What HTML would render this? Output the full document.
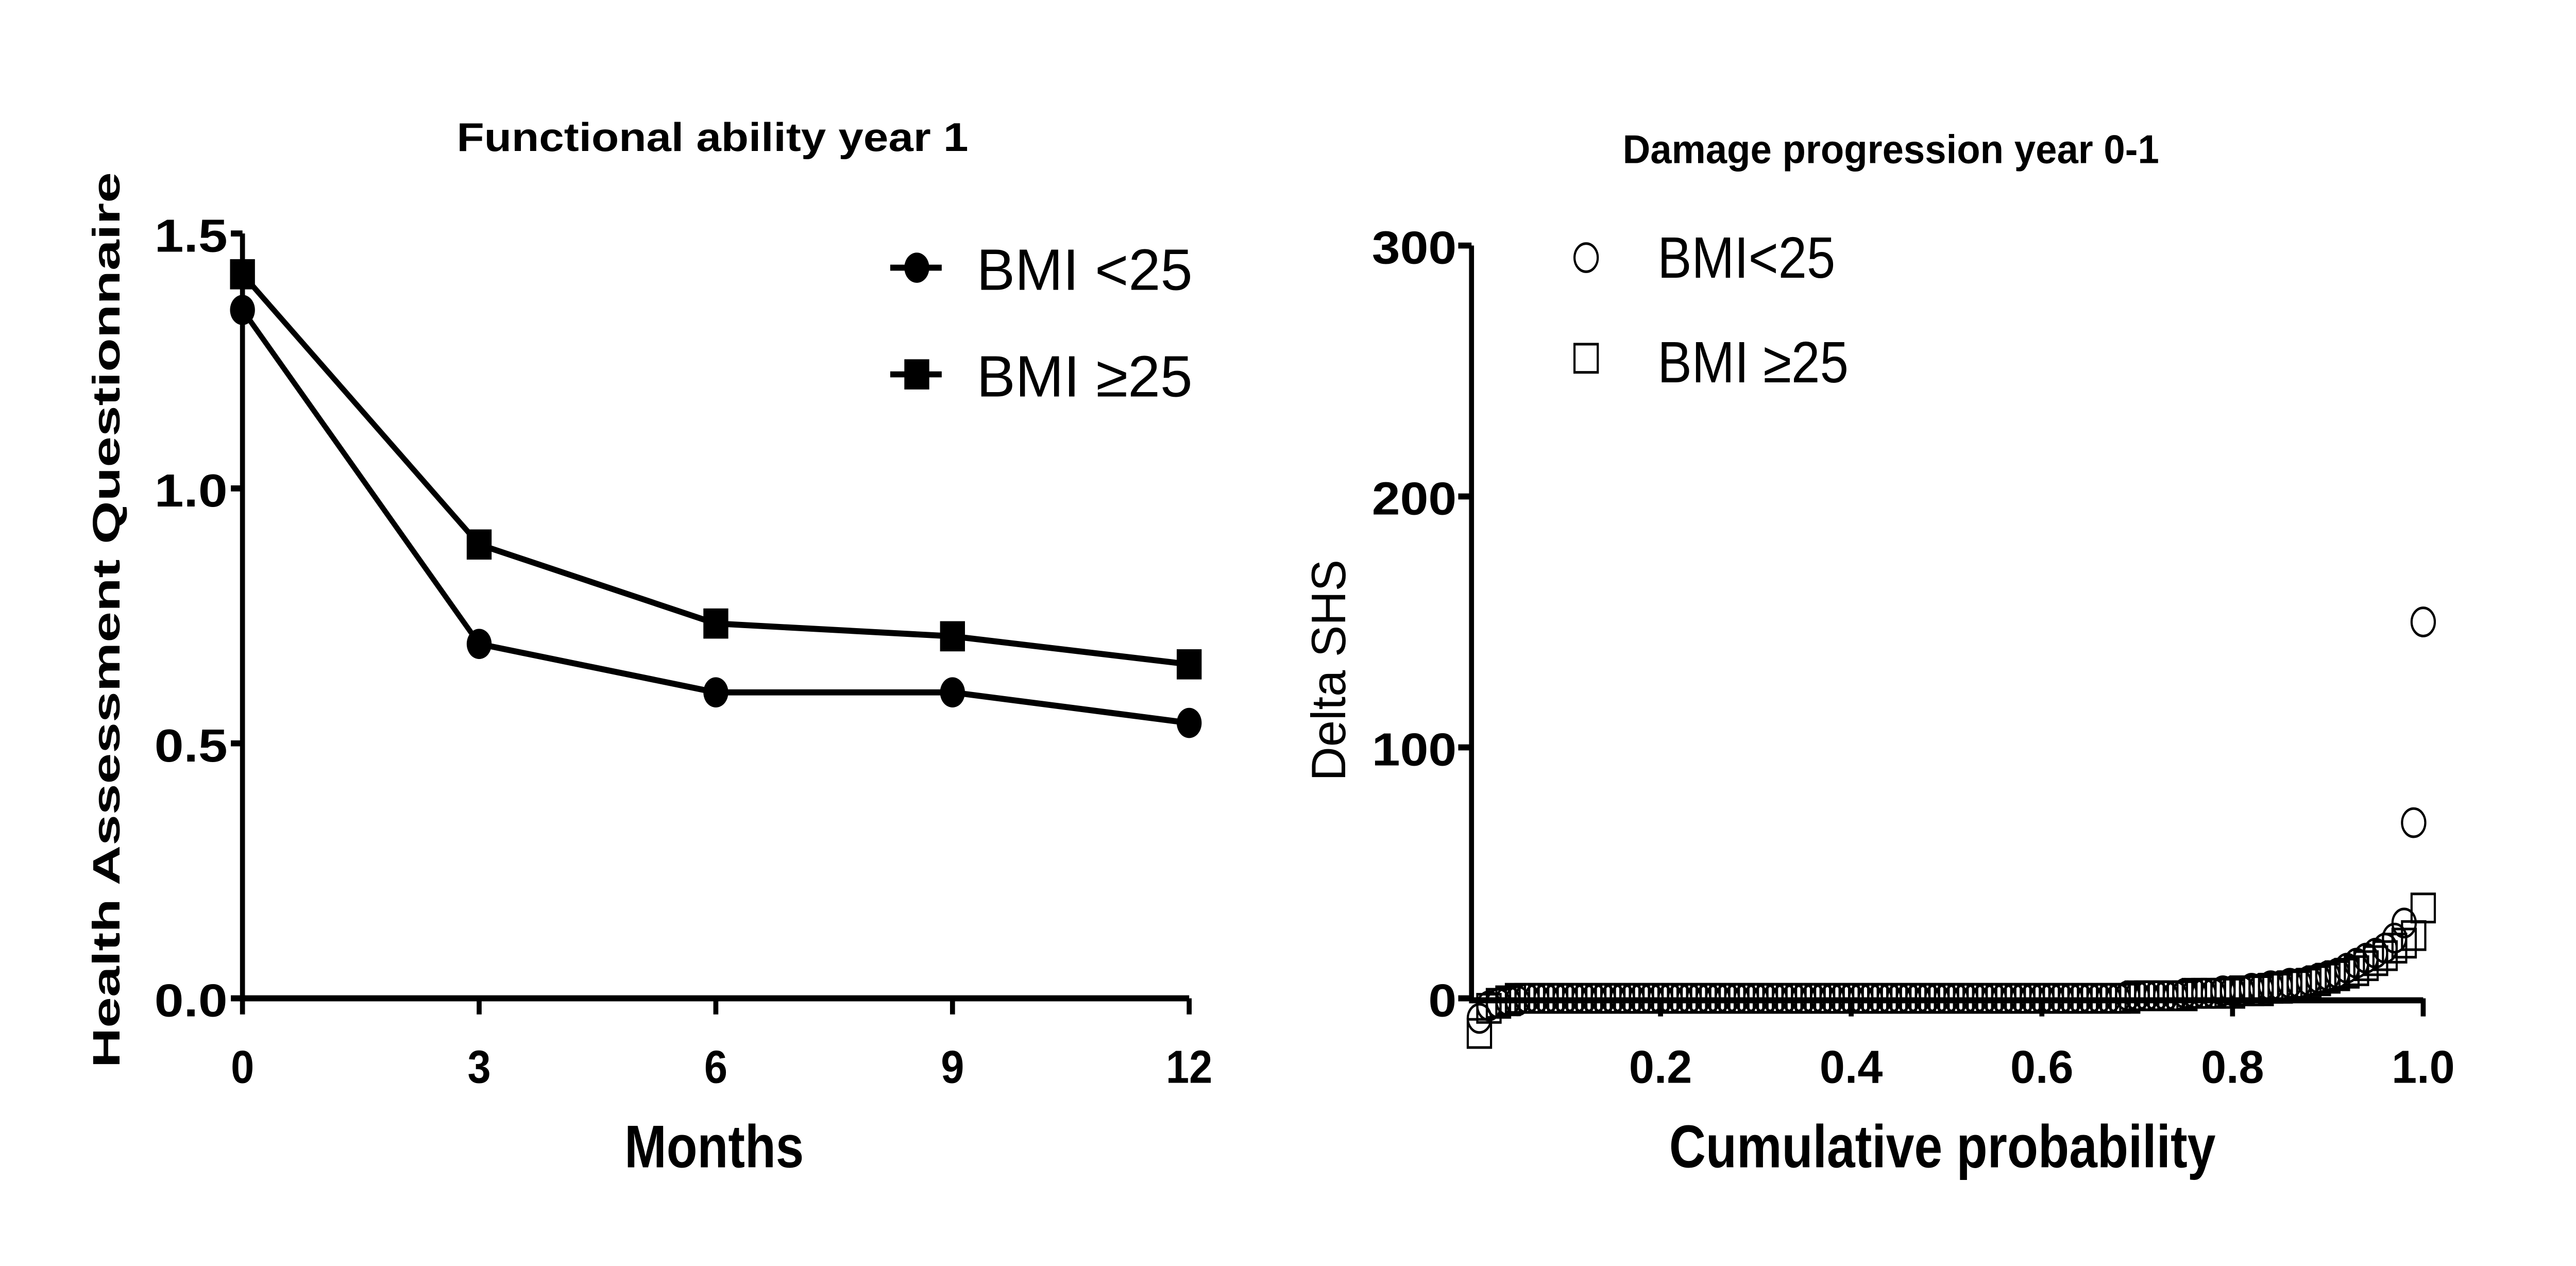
<!DOCTYPE html>
<html><head><meta charset="utf-8"><style>
html,body{margin:0;padding:0;background:#fff;width:100%;height:100%;overflow:hidden}
svg{display:block;position:absolute;left:0;top:0;width:100vw;height:100vh}
text{font-family:"Liberation Sans",Arial,sans-serif;fill:#000}
</style></head><body>
<svg id="fig" viewBox="0 0 1551 629" preserveAspectRatio="none" xmlns="http://www.w3.org/2000/svg">
<rect width="1551" height="629" fill="#fff"/>
<g id="left"></g>
<g id="right"></g>
</svg>
<script>
// ---- Left chart data ----
const months = [0, 3, 6, 9, 12];
const bmiLow = [1.35, 0.695, 0.60, 0.60, 0.54];
const bmiHigh = [1.42, 0.89, 0.735, 0.71, 0.655];
const leftYTicks = [0, 0.5, 1.0, 1.5];
const leftYTickLabels = ["0.0", "0.5", "1.0", "1.5"];
const leftXTicks = [0, 3, 6, 9, 12];

// ---- Right chart data (sorted Delta SHS values) ----
const shsLow = [-8,-3,-2,-1,-1,
0,0,0,0,0,0,0,0,0,0,0,0,0,0,0,0,0,0,0,0,0,0,0,0,0,0,0,0,0,0,0,0,0,0,0,0,0,0,0,0,0,0,0,0,0,0,0,0,0,0,0,0,0,0,0,0,0,0,0,0,0,0,0,
1,1,1,1,1,1,2,2,2,2,3,3,3,4,4,5,5,6,6,7,8,9,10,12,14,16,18,20,24,30,70,150];
const shsHigh = [-14,-4,-2,-1,
0,0,0,0,0,0,0,0,0,0,0,0,0,0,0,0,0,0,0,0,0,0,0,0,0,0,0,0,0,0,0,0,0,0,0,0,0,0,0,0,0,0,0,0,0,0,0,0,0,0,0,0,0,0,0,0,0,0,0,0,0,0,0,0,0,
1,1,1,1,1,1,2,2,2,2,2,3,3,3,4,4,5,5,6,7,8,9,10,11,13,15,17,20,22,25,36];
const rightYTicks = [0, 100, 200, 300];
const rightXTicks = [0.2, 0.4, 0.6, 0.8, 1.0];
const rightXTickLabels = ["0.2", "0.4", "0.6", "0.8", "1.0"];

const NS = "http://www.w3.org/2000/svg";
function mk(parent, tag, attrs) {
  const e = document.createElementNS(NS, tag);
  for (const k in attrs) e.setAttribute(k, attrs[k]);
  parent.appendChild(e);
  return e;
}
function txt(parent, s, attrs) { const t = mk(parent, "text", attrs); t.textContent = s; return t; }

// ===== LEFT =====
const L = document.getElementById("left");
const lx = v => 146 + (v / 12) * (716 - 146);
const ly = v => 496 - (v / 1.5) * (496 - 116);

let t = txt(L, "Functional ability year 1", {x:275, y:75, "font-size":20, "font-weight":"bold", textLength:308, lengthAdjust:"spacingAndGlyphs"});



let ax = mk(L, "path", {d:`M146 ${ly(1.5)} V496 H${lx(12)}`, stroke:"#000", "stroke-width":3, fill:"none"});


leftYTicks.forEach((v, i) => {
  const tk = mk(L, "line", {x1:139, x2:146, y1:ly(v), y2:ly(v), stroke:"#000", "stroke-width":3});
  
  
  const lb = txt(L, leftYTickLabels[i], {x:137, y:ly(v) + 9, "font-size":23, "font-weight":"bold", "text-anchor":"end", textLength:44, lengthAdjust:"spacingAndGlyphs"});
  
  
});
leftXTicks.forEach(v => {
  const tk = mk(L, "line", {x1:lx(v), x2:lx(v), y1:496, y2:504, stroke:"#000", "stroke-width":3});
  
  
  const s = String(v);
  const lb = txt(L, s, {x:lx(v), y:538, "font-size":23, "font-weight":"bold", "text-anchor":"middle", textLength:s.length * 14, lengthAdjust:"spacingAndGlyphs"});
  
  
});
t = txt(L, "Months", {x:376, y:580, "font-size":30, "font-weight":"bold", textLength:108, lengthAdjust:"spacingAndGlyphs"});


t = txt(L, "Health Assessment Questionnaire", {x:0, y:0, "font-size":23, "font-weight":"bold", "text-anchor":"middle", textLength:445, lengthAdjust:"spacingAndGlyphs", transform:"translate(72,308) rotate(-90)"});



function series(vals, name, marker) {
  const pts = months.map((m, i) => `${lx(m)},${ly(vals[i])}`).join(" ");
  const pl = mk(L, "polyline", {points:pts, fill:"none", stroke:"#000", "stroke-width":3});
  
  
  months.forEach((m, i) => {
    let e;
    if (marker === "circle") e = mk(L, "circle", {cx:lx(m), cy:ly(vals[i]), r:7.5, fill:"#000"});
    else e = mk(L, "rect", {x:lx(m) - 7.5, y:ly(vals[i]) - 7.5, width:15, height:15, fill:"#000"});
    
    
  });
}
series(bmiLow, "bmi-under-25", "circle");
series(bmiHigh, "bmi-25-plus", "square");

let lg = mk(L, "g", {});


mk(lg, "line", {x1:536, x2:567, y1:133, y2:133, stroke:"#000", "stroke-width":3});
mk(lg, "circle", {cx:552, cy:133, r:7.5, fill:"#000"});
txt(lg, "BMI <25", {x:588, y:144, "font-size":29, textLength:130, lengthAdjust:"spacingAndGlyphs"});
mk(lg, "line", {x1:536, x2:567, y1:186, y2:186, stroke:"#000", "stroke-width":3});
mk(lg, "rect", {x:544.5, y:178.5, width:15, height:15, fill:"#000"});
txt(lg, "BMI \u226525", {x:588, y:197, "font-size":29, textLength:130, lengthAdjust:"spacingAndGlyphs"});

// ===== RIGHT =====
const R = document.getElementById("right");
const rx = p => 885 + p * (1459 - 885);
const ry = v => 496 - (v / 300) * (496 - 122);

t = txt(R, "Damage progression year 0-1", {x:977, y:81, "font-size":20, "font-weight":"bold", textLength:323, lengthAdjust:"spacingAndGlyphs"});



ax = mk(R, "path", {d:`M886 ${ry(300)} V497 H${rx(1.0)}`, stroke:"#000", "stroke-width":3, fill:"none"});


rightYTicks.forEach(v => {
  const tk = mk(R, "line", {x1:878, x2:886, y1:ry(v), y2:ry(v), stroke:"#000", "stroke-width":3});
  
  
  const s = String(v);
  const lb = txt(R, s, {x:877, y:ry(v) + 9, "font-size":23, "font-weight":"bold", "text-anchor":"end", textLength:s.length * 17, lengthAdjust:"spacingAndGlyphs"});
  
  
});
rightXTicks.forEach((v, i) => {
  const tk = mk(R, "line", {x1:rx(v), x2:rx(v), y1:496, y2:505, stroke:"#000", "stroke-width":3});
  
  
  const lb = txt(R, rightXTickLabels[i], {x:rx(v), y:538, "font-size":23, "font-weight":"bold", "text-anchor":"middle", textLength:38, lengthAdjust:"spacingAndGlyphs"});
  
  
});
t = txt(R, "Cumulative probability", {x:1005, y:580, "font-size":30, "font-weight":"bold", textLength:329, lengthAdjust:"spacingAndGlyphs"});


t = txt(R, "Delta SHS", {x:0, y:0, "font-size":29, "text-anchor":"middle", textLength:110, lengthAdjust:"spacingAndGlyphs", transform:"translate(810,333) rotate(-90)"});



function scatter(vals, name, marker) {
  const n = vals.length;
  vals.forEach((v, i) => {
    const p = (i + 1) / n;
    let e;
    if (marker === "circle") e = mk(R, "circle", {cx:rx(p), cy:ry(v), r:7, fill:"none", stroke:"#000", "stroke-width":1.3});
    else e = mk(R, "rect", {x:rx(p) - 7, y:ry(v) - 7, width:14, height:14, fill:"none", stroke:"#000", "stroke-width":1.3});
    
    
  });
}
scatter(shsHigh, "shs-bmi-25-plus", "square");
scatter(shsLow, "shs-bmi-under-25", "circle");

lg = mk(R, "g", {});


mk(lg, "circle", {cx:955, cy:128, r:7, fill:"none", stroke:"#000", "stroke-width":1.3});
txt(lg, "BMI<25", {x:998, y:138, "font-size":29, textLength:107, lengthAdjust:"spacingAndGlyphs"});
mk(lg, "rect", {x:948, y:171, width:14, height:14, fill:"none", stroke:"#000", "stroke-width":1.3});
txt(lg, "BMI \u226525", {x:998, y:190, "font-size":29, textLength:115, lengthAdjust:"spacingAndGlyphs"});
</script>
</body></html>
